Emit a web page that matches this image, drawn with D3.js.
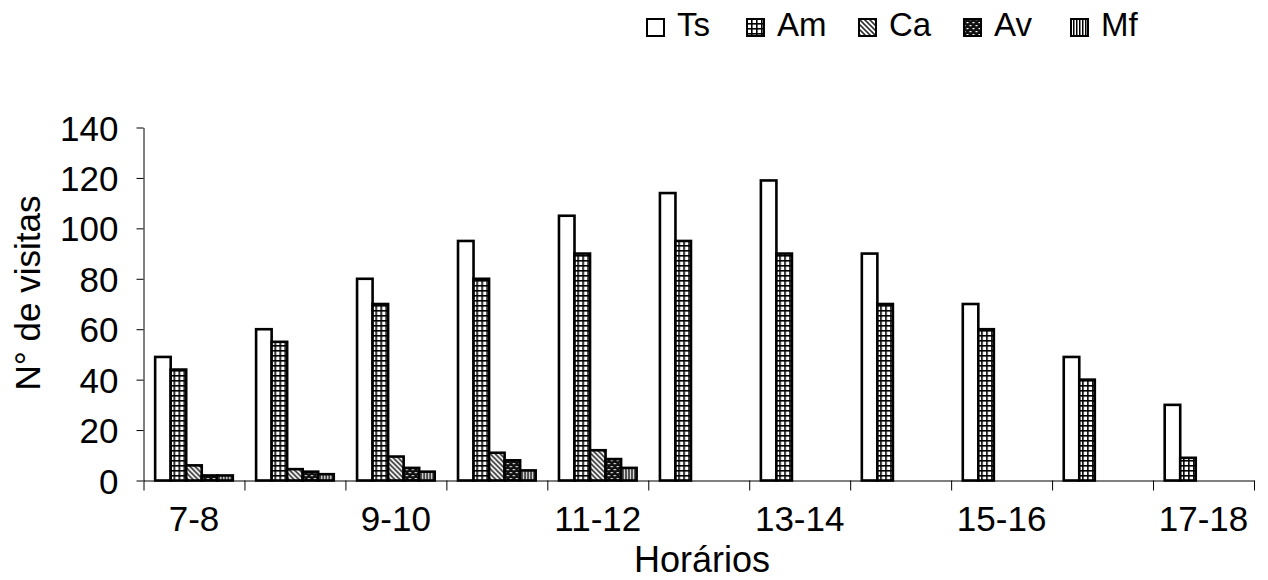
<!DOCTYPE html>
<html>
<head>
<meta charset="utf-8">
<script src="https://cdn.jsdelivr.net/npm/d3@7"></script>
<style>
  body { margin: 0; background: #fff; }
  text { font-family: 'Liberation Sans', Arial, sans-serif; fill: #000; }
</style>
</head>
<body>
<div id="chart"></div>
<script>
// horários (intervalos de 1 h)
const categories = ['7-8', '8-9', '9-10', '10-11', '11-12', '12-13', '13-14', '14-15', '15-16', '16-17', '17-18'];
const shownLabels = ['7-8', '9-10', '11-12', '13-14', '15-16', '17-18'];
const seriesNames = ['Ts', 'Am', 'Ca', 'Av', 'Mf'];

const ts = [49, 60, 80, 95, 105, 114, 119, 90, 70, 49, 30];
const am = [44, 55, 70, 80, 90, 95, 90, 70, 60, 40, 9];
const ca = [6, 4.5, 9.5, 11, 12, null, null, null, null, null, null];
const av = [2, 3.5, 5, 8, 8.5, null, null, null, null, null, null];
const mf = [2, 2.5, 3.5, 4, 5, null, null, null, null, null, null];
const yTicks = [0, 20, 40, 60, 80, 100, 120, 140];

const seriesValues = [ts, am, ca, av, mf];

const W = 1268, H = 580;
const svg = d3.select('#chart').append('svg').attr('width', W).attr('height', H);

// fill patterns (Excel-like)
const defs = svg.append('defs');
const pGrid = defs.append('pattern').attr('id', 'p-am').attr('patternUnits', 'userSpaceOnUse').attr('width', 5).attr('height', 5);
pGrid.append('rect').attr('width', 5).attr('height', 5).attr('fill', '#fff');
pGrid.append('rect').attr('width', 5).attr('height', 1.6).attr('fill', '#000');
pGrid.append('rect').attr('width', 1.6).attr('height', 5).attr('fill', '#000');

const pDiag = defs.append('pattern').attr('id', 'p-ca').attr('patternUnits', 'userSpaceOnUse').attr('width', 5).attr('height', 5);
pDiag.append('rect').attr('width', 5).attr('height', 5).attr('fill', '#fff');
pDiag.append('path').attr('d', 'M-1,-1 L6,6 M-1,4 L1,6 M4,-1 L6,1').attr('stroke', '#333').attr('stroke-width', 1.6);

const pDots = defs.append('pattern').attr('id', 'p-av').attr('patternUnits', 'userSpaceOnUse').attr('width', 6).attr('height', 6);
pDots.append('rect').attr('width', 6).attr('height', 6).attr('fill', '#111');
pDots.append('rect').attr('x', 0.5).attr('y', 1).attr('width', 2).attr('height', 1.2).attr('fill', '#fff');
pDots.append('rect').attr('x', 3.5).attr('y', 4).attr('width', 2).attr('height', 1.2).attr('fill', '#fff');

const pVert = defs.append('pattern').attr('id', 'p-mf').attr('patternUnits', 'userSpaceOnUse').attr('width', 3).attr('height', 3);
pVert.append('rect').attr('width', 3).attr('height', 3).attr('fill', '#fff');
pVert.append('rect').attr('width', 1.5).attr('height', 3).attr('fill', '#000');

const fills = { Ts: '#fff', Am: 'url(#p-am)', Ca: 'url(#p-ca)', Av: 'url(#p-av)', Mf: 'url(#p-mf)' };

const x0 = d3.scaleBand().domain(categories).range([143.5, 1254]).paddingInner(0).paddingOuter(0);
const x1 = d3.scaleBand().domain(seriesNames).range([0, x0.bandwidth()]).paddingInner(0).paddingOuter(0.75);
const y = d3.scaleLinear().domain([0, 140]).range([480.5, 127.5]);
const xb = d3.scaleLinear().domain([0, categories.length]).range([143.5, 1254]);

// bars
const groups = svg.append('g').selectAll('g').data(categories).enter().append('g')
    .attr('transform', d => `translate(${x0(d)},0)`);
groups.selectAll('rect')
    .data((c, i) => seriesNames.map((s, k) => ({ s: s, v: seriesValues[k][i] })).filter(d => d.v != null))
    .enter().append('rect')
    .attr('x', d => x1(d.s)).attr('y', d => y(d.v))
    .attr('width', x1.bandwidth()).attr('height', d => y(0) - y(d.v))
    .attr('fill', d => fills[d.s]).attr('stroke', '#000').attr('stroke-width', 2.6);

// y axis
const gy = svg.append('g').attr('transform', 'translate(143.5,0)')
    .call(d3.axisLeft(y).tickValues(yTicks).tickSize(7).tickPadding(18).tickSizeOuter(0));
gy.select('.domain').attr('stroke', '#000');
gy.selectAll('text').attr('font-size', '35px').attr('dy', '0.36em').attr('font-family', "'Liberation Sans', Arial, sans-serif");

// x axis: ticks at group boundaries, labels every other group
const gx = svg.append('g').attr('transform', `translate(0,${y(0)})`)
    .call(d3.axisBottom(xb).tickValues(d3.range(categories.length + 1)).tickSize(10).tickFormat('').tickSizeOuter(0));
gx.select('.domain').attr('stroke', '#000');
svg.append('g').selectAll('text').data(shownLabels).enter().append('text')
    .attr('x', d => x0(d) + x0.bandwidth() / 2).attr('y', 531)
    .attr('text-anchor', 'middle').attr('font-size', '35px').text(d => d);

// axis titles
svg.append('text').attr('x', 702).attr('y', 572).attr('text-anchor', 'middle').attr('font-size', '36px').text('Horários');
svg.append('text').attr('transform', 'translate(40,293) rotate(-90)').attr('text-anchor', 'middle').attr('font-size', '35px').text('N° de visitas');

// legend
const legendX = [646, 746, 858, 963, 1070];
const lg = svg.append('g').selectAll('g').data(seriesNames).enter().append('g')
    .attr('transform', (d, i) => `translate(${legendX[i]},18)`);
lg.append('rect').attr('x', 1).attr('y', 1).attr('width', 17).attr('height', 17)
    .attr('fill', d => fills[d]).attr('stroke', '#000').attr('stroke-width', 2);
lg.append('text').attr('x', 31).attr('y', 18).attr('font-size', '33px').text(d => d);
</script>
</body>
</html>
